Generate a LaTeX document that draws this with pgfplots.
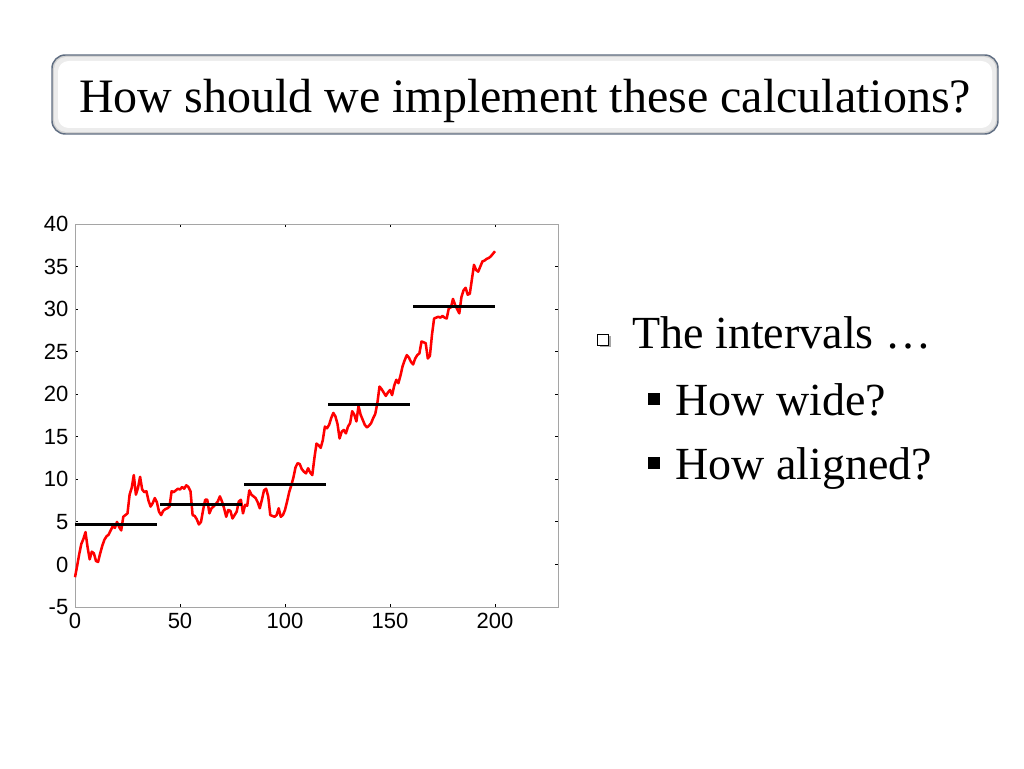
\documentclass[border=0pt]{standalone}
\usepackage{pgfplots}
\pgfplotsset{compat=1.18}
\usepackage{fontspec}
\setmainfont{Liberation Serif}
\newfontfamily\axisfont{Liberation Sans}
\definecolor{boxedge}{RGB}{96,110,130}
\definecolor{axgray}{RGB}{165,165,165}
\begin{document}
\begin{tikzpicture}[x=0.75pt,y=0.75pt]
\useasboundingbox (0,0) rectangle (1024,768);
\fill[white] (0,0) rectangle (1024,768);
% title box
\fill[gray!35, rounded corners=10] (52,768-134) rectangle (998,768-55);
\fill[gray!15, rounded corners=9] (54,768-132) rectangle (996,768-57);
\fill[white, rounded corners=8] (58,768-128) rectangle (992,768-61);
\draw[boxedge, line width=1.1pt, rounded corners=10] (52,768-134) rectangle (998,768-55);
\node[anchor=base, inner sep=0pt] at (525,768-113) {\fontsize{36}{40}\selectfont How should we implement these calculations?};
% bullets
\fill[gray!70] (599.5,768-347.5) rectangle (611,768-336);
\filldraw[fill=white, draw=black, line width=0.8pt] (597.5,768-345.5) rectangle (608.5,768-334.5);
\node[anchor=base west, inner sep=0pt] at (632,768-349) {\fontsize{34.5}{38}\selectfont The intervals …};
\fill[black] (648,768-405) rectangle (660,768-393);
\node[anchor=base west, inner sep=0pt] at (675,768-416) {\fontsize{34.5}{38}\selectfont How wide?};
\fill[black] (648,768-469) rectangle (660,768-457);
\node[anchor=base west, inner sep=0pt] at (675,768-480) {\fontsize{34.5}{38}\selectfont How aligned?};
\begin{axis}[
  at={(56.25pt,120.75pt)}, anchor=south west,
  scale only axis, width=362.25pt, height=287.25pt,
  xmin=0, xmax=230, ymin=-5, ymax=40,
  xtick={0,50,100,150,200}, ytick={-5,0,5,...,40},
  axis line style={axgray, line width=0.6pt},
  tick style={black, line width=0.6pt},
  major tick length=2.5pt,
  tick align=inside,
  /pgf/number format/assume math mode=true,
  ticklabel style={font=\axisfont\fontsize{16.5}{16.5}\selectfont, text=black},
  xticklabel style={yshift=-1pt},
  yticklabel style={xshift=-1.5pt},
  clip=false,
]
\addplot[red, line width=1.9pt, line join=round] coordinates {
(0,-1.5) (1,-0.2) (2,1.2) (3,2.4) (4,3.0) (5,3.8) (6,2.0) (7,0.6) (8,1.5) (9,1.3) (10,0.4) (11,0.3) (12,1.3) (13,2.2) (14,2.9) (15,3.3) (16,3.5) (17,4.0) (18,4.5) (19,4.3) (20,5.0) (21,4.4) (22,4.0) (23,5.6) (24,5.8) (25,6.0) (26,8.2) (27,9.0) (28,10.5) (29,8.2) (30,9.0) (31,10.3) (32,8.8) (33,8.5) (34,8.6) (35,7.5) (36,6.8) (37,7.2) (38,7.8) (39,7.3) (40,6.2) (41,5.8) (42,6.3) (43,6.5) (44,6.6) (45,6.8) (46,8.6) (47,8.5) (48,8.7) (49,8.9) (50,8.8) (51,9.1) (52,8.9) (53,9.3) (54,9.1) (55,8.6) (56,5.8) (57,5.7) (58,5.3) (59,4.7) (60,5.0) (61,6.4) (62,7.6) (63,7.6) (64,6.0) (65,6.6) (66,6.8) (67,7.1) (68,7.4) (69,8.0) (70,7.4) (71,6.6) (72,5.6) (73,6.4) (74,6.3) (75,5.4) (76,5.8) (77,6.2) (78,7.4) (79,7.6) (80,6.0) (81,7.0) (82,6.9) (83,8.7) (84,8.2) (85,8.0) (86,7.8) (87,7.3) (88,6.6) (89,7.6) (90,8.7) (91,8.9) (92,8.0) (93,5.8) (94,5.7) (95,5.6) (96,5.8) (97,6.6) (98,5.6) (99,5.8) (100,6.4) (101,7.4) (102,8.5) (103,9.3) (104,10.2) (105,11.4) (106,11.9) (107,11.8) (108,11.2) (109,10.9) (110,10.7) (111,11.3) (112,10.8) (113,10.5) (114,12.5) (115,14.2) (116,14.0) (117,13.7) (118,14.6) (119,16.2) (120,16.0) (121,16.4) (122,17.2) (123,17.8) (124,17.4) (125,16.5) (126,14.8) (127,15.6) (128,15.8) (129,15.4) (130,16.2) (131,16.6) (132,18.0) (133,17.6) (134,16.8) (135,18.6) (136,17.6) (137,17.0) (138,16.4) (139,16.1) (140,16.3) (141,16.6) (142,17.2) (143,17.7) (144,19.0) (145,20.9) (146,20.6) (147,20.2) (148,19.8) (149,20.2) (150,20.5) (151,19.9) (152,21.0) (153,21.7) (154,21.3) (155,22.2) (156,23.3) (157,24.0) (158,24.6) (159,24.3) (160,23.8) (161,23.5) (162,24.2) (163,24.6) (164,24.8) (165,26.2) (166,26.1) (167,26.0) (168,24.2) (169,24.5) (170,27.0) (171,28.9) (172,29.0) (173,29.1) (174,29.0) (175,29.2) (176,29.0) (177,28.9) (178,30.1) (179,30.2) (180,31.2) (181,30.5) (182,30.0) (183,29.5) (184,31.4) (185,32.2) (186,32.5) (187,31.7) (188,31.8) (189,33.5) (190,35.2) (191,34.6) (192,34.4) (193,35.0) (194,35.6) (195,35.7) (196,35.9) (197,36.0) (198,36.2) (199,36.5) (200,36.8)
};
\addplot[black, line width=1.9pt] coordinates {(0,4.7) (39,4.7)};
\addplot[black, line width=1.9pt] coordinates {(40.5,7.05) (79.5,7.05)};
\addplot[black, line width=1.9pt] coordinates {(80.5,9.4) (119.5,9.4)};
\addplot[black, line width=1.9pt] coordinates {(120.5,18.8) (159.5,18.8)};
\addplot[black, line width=1.9pt] coordinates {(161,30.3) (200,30.3)};
\end{axis}
\end{tikzpicture}
\end{document}
